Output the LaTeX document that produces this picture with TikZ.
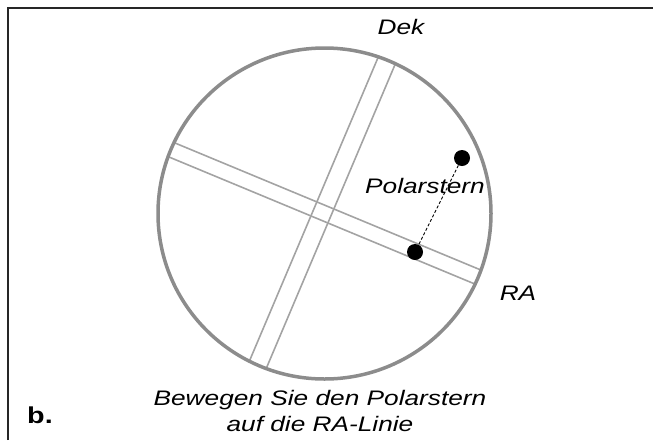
\documentclass[tikz,border=0pt]{standalone}
\usepackage{fontspec}
\setmainfont{Liberation Sans}[FakeStretch=1.25]
\usetikzlibrary{shapes.geometric}
\definecolor{rimgray}{HTML}{8C8C8C}
\definecolor{bandgray}{HTML}{A3A3A3}

\begin{document}
\begin{tikzpicture}[x=1pt, y=-1pt,
        bandline/.style={draw=bandgray, line width=1.6pt},
        stardot/.style={circle, fill=black, minimum size=16pt, inner sep=0pt},
        lbl/.style={font=\fontsize{21}{26}\selectfont\itshape, inner sep=0pt}]
    \useasboundingbox (0,0) rectangle (653,440);
    \draw[line width=2pt, color=black!85] (8,440) -- (8,8) -- (653,8);
    % reticle: RA and Dek bands, clipped to the field of view
    \begin{scope}
      \clip (324.5,213.5) ellipse [x radius=166.5, y radius=165.5];
      \draw[bandline] (175,143) -- +(-301,-125) (175,143) -- +(602,250);
      \draw[bandline] (169,157) -- +(-301,-125) (169,157) -- +(602,250);
      \draw[bandline] (377,60) -- +(128,-302) (377,60) -- +(-256,604);
      \draw[bandline] (394,67) -- +(128,-302) (394,67) -- +(-256,604);
    \end{scope}
    \node[draw=rimgray, line width=3.5pt, ellipse, minimum width=333pt, minimum height=331pt,
          inner sep=0pt] (field) at (324.5,213.5) {};
    \node[stardot] (polaris) at (462,158) {};
    \node[stardot] (target) at (415,252) {};
    \draw[dashed, dash pattern=on 3pt off 2pt, line width=0.9pt] (polaris) -- (target);
    \node[lbl] (dek) at (401,27) {Dek};
    \node[lbl] (ra) at (518,293) {RA};
    \node[lbl] (polname) at (425,186) {Polarstern};
    \node[lbl, align=center] (hint) at (320,411) {Bewegen Sie den Polarstern\\auf die RA-Linie};
    \node[font=\fontsize{23}{23}\selectfont\bfseries, inner sep=0pt] (part) at (40,415) {b.};
\end{tikzpicture}
\end{document}
